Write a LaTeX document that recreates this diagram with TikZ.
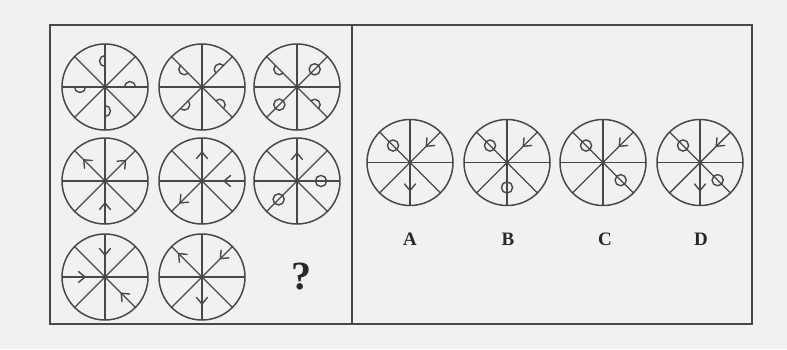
\documentclass[tikz,border=0pt]{standalone}
\usepackage{fontspec}
\setmainfont{Liberation Serif}
\usetikzlibrary{calc}
\definecolor{ink}{RGB}{72,72,72}
\definecolor{txt}{RGB}{40,40,40}
\definecolor{paper}{RGB}{241,241,241}
\newcommand\wsemi[3]{\draw[sym] ($(#1)+(#2:#3)+(#2:5.5)$) arc[start angle=#2, end angle=#2+180, radius=5.5];}
\newcommand\wchev[4]{\draw[sym] ($(#1)+(#2:#3)+(#4+140:8.5)$) -- ($(#1)+(#2:#3)$) -- ($(#1)+(#2:#3)+(#4+220:8.5)$);}
\newcommand\wtheta[3]{\draw[sym] ($(#1)+(#2:#3)$) circle[radius=5.6];}
\newcommand\wspokes[1]{%
  \draw[spoke] (#1.north) -- (#1.south);
  \draw[spoke] (#1.east) -- (#1.west);
  \draw[spoke] (#1.45) -- (#1.225);
  \draw[spoke] (#1.135) -- (#1.315);
  \fill[ink] (#1.center) circle[radius=1.9];}
\begin{document}
\begin{tikzpicture}[x=1pt,y=1pt,
  wheel/.style={circle,draw=ink,line width=1.5pt,minimum size=86pt,inner sep=0pt,outer sep=0pt},
  spoke/.style={draw=ink,line width=1.4pt},
  sym/.style={draw=ink,line width=1.4pt,line cap=round,line join=round},
  frame/.style={draw=ink,line width=1.5pt},
  lab/.style={font=\fontsize{19}{19}\selectfont\bfseries,text=txt}]
\useasboundingbox (0,0) rectangle (787,349);
\fill[paper] (0,0) rectangle (787,349);
% frame
\coordinate (ftl) at (50,324);
\coordinate (fbr) at (752,25);
\coordinate (dtop) at (352,324);
\coordinate (dbot) at (352,25);
\draw[frame] (ftl) rectangle (fbr);
\draw[frame] (dtop) -- (dbot);
% left panel wheels
\node[wheel] (w11) at (105,262) {};
\node[wheel] (w12) at (202,262) {};
\node[wheel] (w13) at (297,262) {};
\node[wheel] (w21) at (105,168) {};
\node[wheel] (w22) at (202,168) {};
\node[wheel] (w23) at (297,168) {};
\node[wheel] (w31) at (105,72) {};
\node[wheel] (w32) at (202,72) {};
\node[lab,font=\fontsize{40}{40}\selectfont\bfseries] (q) at (301,72) {?};
% options
\node[wheel] (wa) at (410,186.5) {};
\node[wheel] (wb) at (507,186.5) {};
\node[wheel] (wc) at (603,186.5) {};
\node[wheel] (wd) at (700,186.5) {};
\node[lab] (la) at (410,110) {A};
\node[lab] (lb) at (508,110) {B};
\node[lab] (lc) at (605,110) {C};
\node[lab] (ld) at (701,110) {D};
\foreach \w in {w11,w12,w13,w21,w22,w23,w31,w32,wa,wb,wc,wd}{\wspokes{\w}}
% row 1
\wsemi{w11}{90}{26}\wsemi{w11}{0}{25}\wsemi{w11}{270}{24}\wsemi{w11}{180}{25}
\wsemi{w12}{135}{25}\wsemi{w12}{45}{25}\wsemi{w12}{225}{25}\wsemi{w12}{315}{25}
\wsemi{w13}{135}{25}\wtheta{w13}{45}{25}\wtheta{w13}{225}{25}\wsemi{w13}{315}{25}
% row 2
\wchev{w21}{135}{30}{135}\wchev{w21}{45}{29}{45}\wchev{w21}{270}{22}{90}
\wchev{w22}{90}{29}{90}\wchev{w22}{0}{22}{180}\wchev{w22}{225}{31}{225}
\wchev{w23}{90}{28}{90}\wtheta{w23}{0}{24}\wtheta{w23}{225}{26}
% row 3
\wchev{w31}{90}{22}{270}\wchev{w31}{180}{20}{0}\wchev{w31}{315}{23}{135}
\wchev{w32}{135}{33}{135}\wchev{w32}{45}{26}{225}\wchev{w32}{270}{27}{270}
% options
\wtheta{wa}{135}{24}\wchev{wa}{45}{23}{225}\wchev{wa}{270}{28}{270}
\wtheta{wb}{135}{24}\wchev{wb}{45}{23}{225}\wtheta{wb}{270}{25}
\wtheta{wc}{135}{24}\wchev{wc}{45}{23}{225}\wtheta{wc}{315}{25}
\wtheta{wd}{135}{24}\wchev{wd}{45}{23}{225}\wtheta{wd}{315}{25}\wchev{wd}{270}{28}{270}
\end{tikzpicture}
\end{document}
